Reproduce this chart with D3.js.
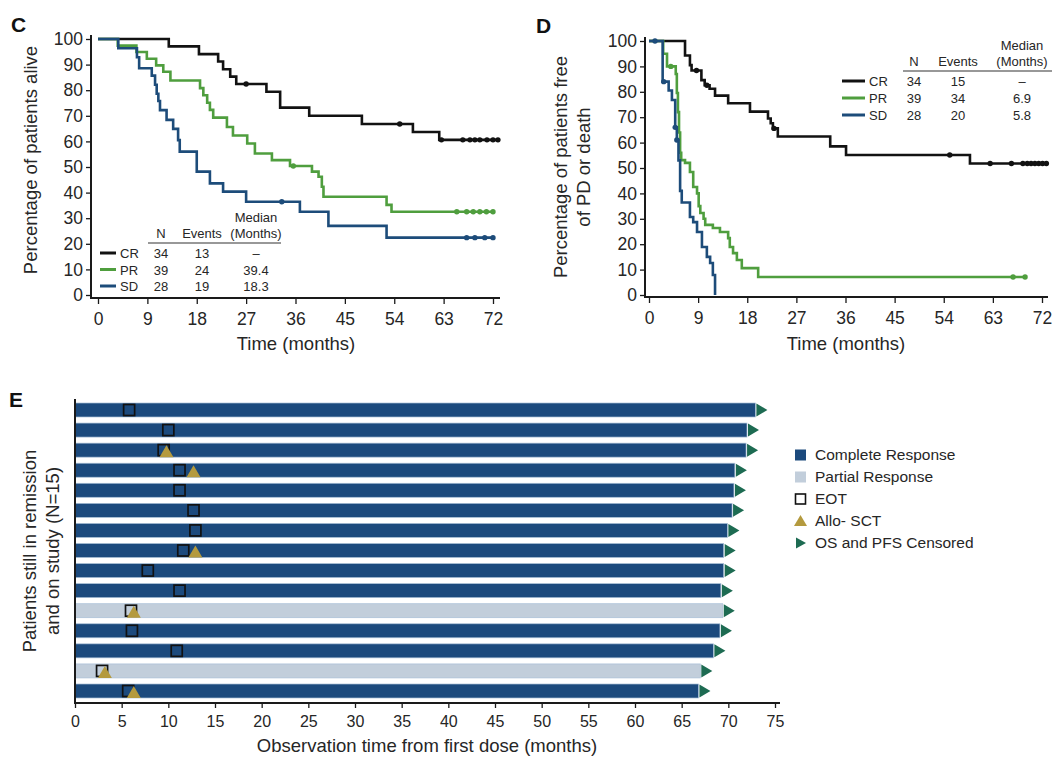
<!DOCTYPE html>
<meta charset="utf-8">
<style>
body { margin:0; background:#fff; }
svg text { font-family: "Liberation Sans", Arial, sans-serif; fill:#262626; }
.tick text { font-size:17.5px; }
.etick .tick text { font-size:16px; }
.title { font-size:18.5px; }
.leg { font-size:13px; }
.eleg { font-size:15.5px; }
.panel { font-size:21px; font-weight:bold; fill:#111 !important; }
.axline { fill:none; stroke:#1a1a1a; stroke-width:2px; }
.tick line { stroke:#1a1a1a; stroke-width:1.3px; }
.km { fill:none; stroke-width:2.6px; }
</style>
<body>
<svg width="1053" height="762"></svg>
<script src="https://cdn.jsdelivr.net/npm/d3@7"></script>
<script>

var timeTicks = [0,9,18,27,36,45,54,63,72];
var pctTicks = [0,10,20,30,40,50,60,70,80,90,100];
var groups = ["CR","PR","SD"];
var groupColors = ["#121212","#4f9e3e","#1d4c7a"];

// panel C: overall survival, steps [month, percent]
var osCR = [[0,100],[12.9,97.1],[18.4,94.1],[21.9,91.2],[22.8,88.2],[24.1,85.3],[25.2,82.4],[30.7,79.4],[33.2,73.2],[38.5,70.0],[48.1,66.8],[57.4,63.7],[62.2,60.6],[73.2,60.6]];
var osPR = [[0,100],[3.6,97.4],[7.0,94.9],[8.9,92.3],[10.6,89.7],[11.9,87.2],[13.2,83.8],[18.6,80.8],[19.2,78.0],[19.9,75.1],[20.4,72.3],[21.0,69.3],[23.5,65.6],[24.6,62.3],[27.2,59.2],[28.6,55.3],[31.7,52.7],[35.0,50.4],[39.0,48.2],[40.2,46.2],[40.8,42.3],[41.1,38.4],[52.6,35.2],[53.5,32.5],[72.0,32.5]];
var osSD = [[0,100],[3.7,96.4],[7.1,92.9],[7.5,88.6],[9.8,85.7],[10.4,82.1],[10.7,78.6],[11.0,75.8],[11.3,72.2],[12.5,68.4],[13.7,64.9],[14.6,60.5],[14.9,56.0],[18.0,48.2],[20.4,43.6],[22.8,40.4],[27.0,36.4],[36.8,32.5],[42.0,27.0],[52.6,22.4],[72.0,22.4]];
var osCensCR = [[27.0,82.4],[55.0,66.8],[62.6,60.6],[66.5,60.6],[67.8,60.6],[68.7,60.6],[69.6,60.6],[70.9,60.6],[72.0,60.6],[72.9,60.6]];
var osCensPR = [[35.6,50.4],[65.4,32.5],[67.2,32.5],[68.4,32.5],[69.6,32.5],[70.8,32.5],[72.0,32.5]];
var osCensSD = [[33.5,36.4],[67.2,22.4],[68.7,22.4],[70.5,22.4],[72.0,22.4]];
var osN = [34,39,28];
var osEvents = [13,24,19];
var osMedian = ["–","39.4","18.3"];

// panel D: progression-free survival
var pfsCR = [[0,100],[6.6,94.3],[7.5,90.5],[7.8,88.4],[9.6,84.6],[10.2,82.6],[11.1,81.2],[12.1,78.5],[14.5,75.5],[18.5,72.2],[21.8,69.5],[22.3,67.6],[22.7,65.6],[23.6,62.4],[33.2,58.5],[36.1,55.1],[58.8,51.8],[72.8,51.8]];
var pfsPR = [[0,100],[2.6,95],[3.3,90],[4.9,87],[5.1,79.5],[5.3,72],[5.5,64],[5.7,56],[5.9,53.1],[6.6,52],[7.5,48.4],[8.1,42.5],[8.8,40],[9.1,35],[9.4,32.3],[10.0,30],[10.3,27.6],[11.7,26.4],[13.0,24.8],[14.5,22.4],[14.8,18.9],[15.4,16.5],[16.1,13.8],[17.0,10.6],[20.0,7.1],[68.9,7.1]];
var pfsSD = [[0,100],[2.5,84],[3.6,80.5],[4.2,76.8],[4.8,66],[5.1,61],[5.4,53],[5.7,41],[6.0,36.4],[7.5,30.7],[8.1,28.7],[8.8,24.8],[9.7,18.9],[10.6,15.0],[11.2,12.6],[11.7,7.9],[12.1,0]];
var pfsCensCR = [[8.7,88.4],[10.6,82.6],[22.9,65.6],[55.1,55.1],[62.5,51.8],[66.4,51.8],[68.5,51.8],[69.3,51.8],[70.0,51.8],[70.7,51.8],[71.4,51.8],[72.1,51.8],[72.8,51.8]];
var pfsCensPR = [[4.0,90],[66.7,7.1],[68.9,7.1]];
var pfsCensSD = [[1.1,100],[2.7,84],[4.8,66],[5.1,61]];
var pfsN = [34,39,28];
var pfsEvents = [15,34,20];
var pfsMedian = ["–","6.9","5.8"];

// panel E: swimmer plot, one row per patient
var swimRows = [1,2,3,4,5,6,7,8,9,10,11,12,13,14,15];
var swimResp = ["CR","CR","CR","CR","CR","CR","CR","CR","CR","CR","PR","CR","CR","PR","CR"];
var swimEnd = [72.9,72.0,71.9,70.7,70.6,70.4,69.9,69.5,69.5,69.2,69.4,69.1,68.4,67.0,66.8];
var swimEOT = [5.8,10.0,9.5,11.2,11.2,12.7,12.9,11.6,7.8,11.2,6.0,6.1,10.9,2.9,5.7];
var swimSCT = [null,null,9.8,12.7,null,null,null,12.9,null,null,6.3,null,null,3.2,6.3];
var swimTicks = [0,5,10,15,20,25,30,35,40,45,50,55,60,65,70,75];
var swimLegend = ["Complete Response","Partial Response","EOT","Allo- SCT","OS and PFS Censored"];

var svg = d3.select("svg");

function kmPanel(o) {
  var x = d3.scaleLinear().domain([0,72]).range(o.xr);
  var y = d3.scaleLinear().domain([0,100]).range(o.yr);
  var g = svg.append("g");

  g.append("g").attr("transform","translate("+o.axX+",0)")
    .call(d3.axisLeft(y).tickValues(pctTicks).tickSize(5).tickPadding(3))
    .call(function(a){ a.select(".domain").remove(); });
  g.append("g").attr("transform","translate(0,"+o.axY+")")
    .call(d3.axisBottom(x).tickValues(timeTicks).tickSize(6).tickPadding(9))
    .call(function(a){ a.select(".domain").remove(); });
  g.append("path").attr("class","axline")
    .attr("d","M"+o.axX+","+(o.yr[1]-4)+"V"+o.axY+"H"+o.axEnd);

  var line = d3.line().curve(d3.curveStepAfter)
    .x(function(d){ return x(d[0]); }).y(function(d){ return y(d[1]); });
  o.series.forEach(function(s,i){
    g.append("path").attr("class","km").attr("d",line(s)).attr("stroke",groupColors[i]);
  });
  o.cens.forEach(function(c,i){
    g.selectAll(null).data(c).enter().append("circle")
      .attr("cx",function(d){ return x(d[0]); }).attr("cy",function(d){ return y(d[1]); })
      .attr("r",2.7).attr("fill",groupColors[i]);
  });

  // small table legend
  var L = o.leg, lg = g.append("g").attr("class","leg");
  lg.append("text").attr("x",L.med).attr("y",L.top).attr("text-anchor","middle").text("Median");
  lg.append("text").attr("x",L.n).attr("y",L.top+16).attr("text-anchor","middle").text("N");
  lg.append("text").attr("x",L.ev).attr("y",L.top+16).attr("text-anchor","middle").text("Events");
  lg.append("text").attr("x",L.med).attr("y",L.top+16).attr("text-anchor","middle").text("(Months)");
  lg.append("line").attr("x1",L.rule[0]).attr("x2",L.rule[1]).attr("y1",L.top+21).attr("y2",L.top+21)
    .attr("stroke","#333").attr("stroke-width",1.2);
  groups.forEach(function(k,i){
    var by = L.top+36+i*L.dy;
    lg.append("line").attr("x1",L.sw[0]).attr("x2",L.sw[1]).attr("y1",by-5).attr("y2",by-5)
      .attr("stroke",groupColors[i]).attr("stroke-width",3);
    lg.append("text").attr("x",L.sw[1]+4).attr("y",by).text(k);
    lg.append("text").attr("x",L.n).attr("y",by).attr("text-anchor","middle").text(o.nums[i]);
    lg.append("text").attr("x",L.ev).attr("y",by).attr("text-anchor","middle").text(o.events[i]);
    lg.append("text").attr("x",L.med).attr("y",by).attr("text-anchor","middle").text(o.medians[i]);
  });
}

kmPanel({xr:[98,493], yr:[295,39], axX:91, axY:298, axEnd:500,
  series:[osCR,osPR,osSD], cens:[osCensCR,osCensPR,osCensSD],
  nums:osN, events:osEvents, medians:osMedian,
  leg:{top:222, n:161, ev:202, med:256, rule:[148,281], sw:[100,116], dy:16.5}});

kmPanel({xr:[649,1042], yr:[295,41], axX:645, axY:297, axEnd:1048,
  series:[pfsCR,pfsPR,pfsSD], cens:[pfsCensCR,pfsCensPR,pfsCensSD],
  nums:pfsN, events:pfsEvents, medians:pfsMedian,
  leg:{top:50, n:914, ev:958, med:1022, rule:[903,1052], sw:[842,865], dy:17}});

// axis titles, panels C and D
svg.append("text").attr("class","title").attr("transform","translate(31,160) rotate(-90)")
  .attr("text-anchor","middle").attr("dy","0.35em").text("Percentage of patients alive");
svg.append("text").attr("class","title").attr("x",296).attr("y",350).attr("text-anchor","middle").text("Time (months)");
svg.append("text").attr("class","title").attr("transform","translate(561,167) rotate(-90)")
  .attr("text-anchor","middle").attr("dy","0.35em").text("Percentage of patients free");
svg.append("text").attr("class","title").attr("transform","translate(584,167) rotate(-90)")
  .attr("text-anchor","middle").attr("dy","0.35em").text("of PD or death");
svg.append("text").attr("class","title").attr("x",846).attr("y",350).attr("text-anchor","middle").text("Time (months)");

// panel E
var ex = d3.scaleLinear().domain([0,75]).range([75,775]);
var ey = d3.scalePoint().domain(swimRows).range([410,691]);
var barH = 14;
var eg = svg.append("g");
var respFill = {CR:"#1c4a7d", PR:"#c2cedb"};

eg.append("g").attr("class","etick").attr("transform","translate(0,703)")
  .call(d3.axisBottom(ex).tickValues(swimTicks).tickSize(5).tickPadding(8))
  .call(function(a){ a.select(".domain").remove(); });

eg.selectAll(".bar").data(swimRows).enter().append("rect").attr("class","bar")
  .attr("x",ex(0)).attr("y",function(d){ return ey(d)-barH/2; })
  .attr("width",function(d,i){ return ex(swimEnd[i])-ex(0); }).attr("height",barH)
  .attr("fill",function(d,i){ return respFill[swimResp[i]]; })
  .attr("stroke","#a8bfd6").attr("stroke-width",0.7);

eg.selectAll(".cens").data(swimRows).enter().append("path").attr("class","cens")
  .attr("d",function(d,i){ var xe=ex(swimEnd[i]), c=ey(d);
    return "M"+(xe+1)+","+(c-6.5)+"L"+(xe+12)+","+c+"L"+(xe+1)+","+(c+6.5)+"Z"; })
  .attr("fill","#1d6b52");

eg.selectAll(".eot").data(swimRows).enter().append("rect").attr("class","eot")
  .attr("x",function(d,i){ return ex(swimEOT[i])-5.5; }).attr("y",function(d){ return ey(d)-5.5; })
  .attr("width",11).attr("height",11).attr("fill","none").attr("stroke","#111").attr("stroke-width",1.7);

var sctRows = swimRows.filter(function(d,i){ return swimSCT[i] !== null; });
eg.selectAll(".sct").data(sctRows).enter().append("path").attr("class","sct")
  .attr("d",function(d){ var xs=ex(swimSCT[d-1]), c=ey(d)+1;
    return "M"+(xs-7)+","+(c+6)+"L"+xs+","+(c-6)+"L"+(xs+7)+","+(c+6)+"Z"; })
  .attr("fill","#b49a3e");

eg.append("path").attr("class","axline").attr("d","M75,399V703H780");

svg.append("text").attr("class","title").attr("transform","translate(30,551) rotate(-90)")
  .attr("text-anchor","middle").attr("dy","0.35em").text("Patients still in remission");
svg.append("text").attr("class","title").attr("transform","translate(53,551) rotate(-90)")
  .attr("text-anchor","middle").attr("dy","0.35em").text("and on study (N=15)");
svg.append("text").attr("class","title").attr("x",427).attr("y",752).attr("text-anchor","middle")
  .text("Observation time from first dose (months)");

// legend E
var leY = d3.scalePoint().domain(swimLegend).range([455,543]);
var le = svg.append("g").attr("class","eleg");
le.append("rect").attr("x",795).attr("y",leY(swimLegend[0])-5.5).attr("width",11).attr("height",11).attr("fill",respFill.CR);
le.append("rect").attr("x",795).attr("y",leY(swimLegend[1])-5.5).attr("width",11).attr("height",11).attr("fill",respFill.PR);
le.append("rect").attr("x",795.5).attr("y",leY(swimLegend[2])-5).attr("width",10).attr("height",10).attr("fill","none").attr("stroke","#111").attr("stroke-width",1.6);
le.append("path").attr("d",function(){ var c=leY(swimLegend[3]); return "M794,"+(c+5)+"L800.5,"+(c-6)+"L807,"+(c+5)+"Z"; }).attr("fill","#b49a3e");
le.append("path").attr("d",function(){ var c=leY(swimLegend[4]); return "M796,"+(c-5.5)+"L806,"+c+"L796,"+(c+5.5)+"Z"; }).attr("fill","#1d6b52");
le.selectAll("text").data(swimLegend).enter().append("text")
  .attr("x",815).attr("y",function(d){ return leY(d); }).attr("dy","0.35em").text(function(d){ return d; });

// panel letters
svg.append("text").attr("class","panel").attr("x",11).attr("y",32).text("C");
svg.append("text").attr("class","panel").attr("x",536).attr("y",33).text("D");
svg.append("text").attr("class","panel").attr("x",9).attr("y",407).text("E");
</script>
